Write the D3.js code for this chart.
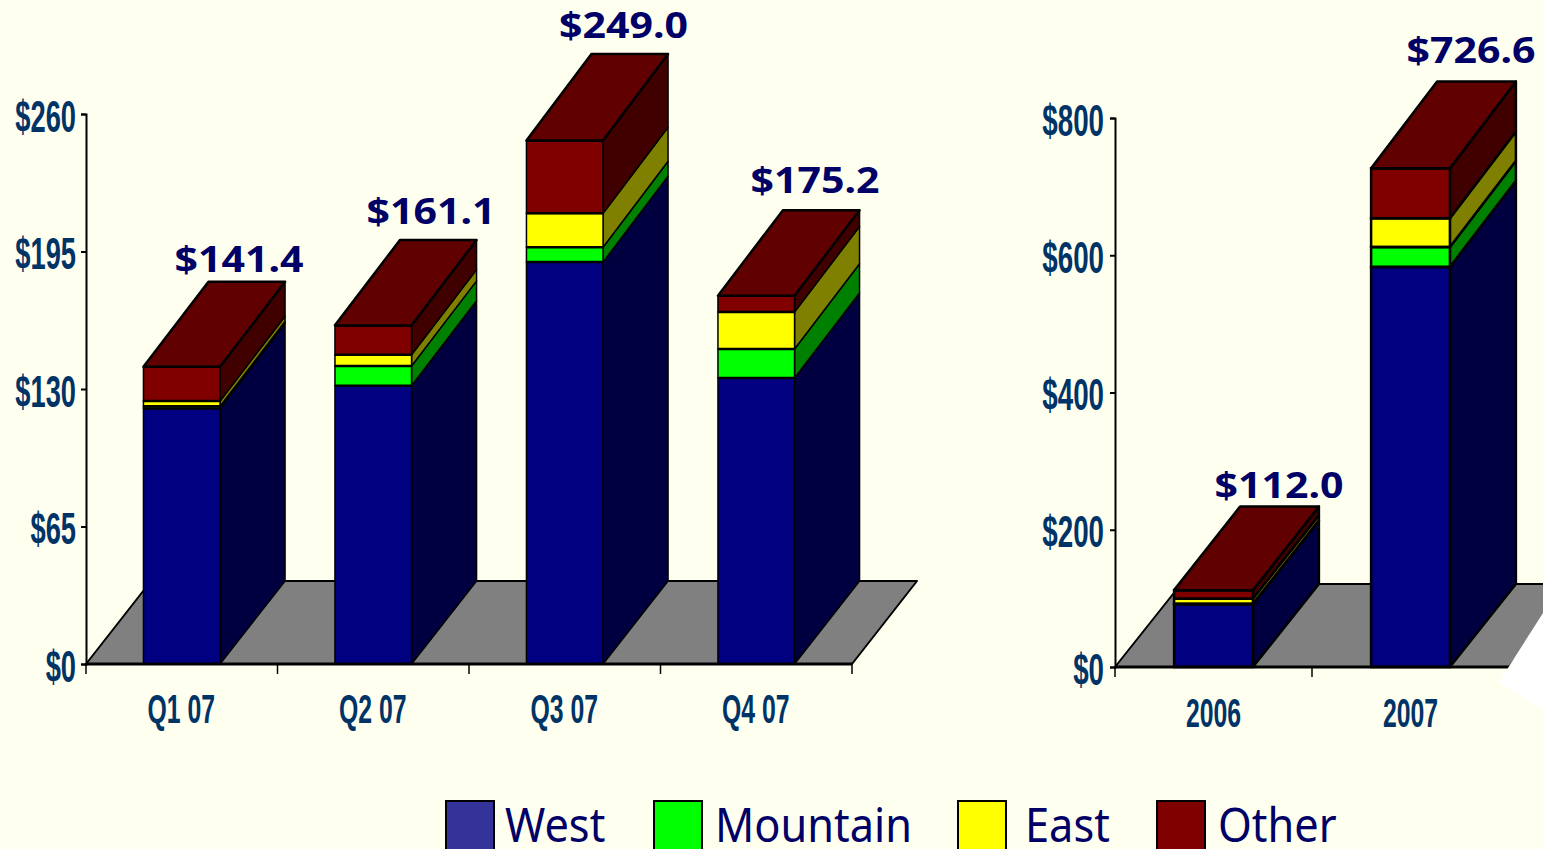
<!DOCTYPE html>
<html><head><meta charset="utf-8"><script src="https://cdn.jsdelivr.net/npm/d3@7"></script>
<style>html,body{margin:0;padding:0;background:#FFFFF0;overflow:hidden}svg{display:block}</style></head>
<body><svg id="c" width="1543" height="849"></svg>
<script>
const seriesNames=["West","Mountain","East","Other"];
const frontColors=["#000080","#00FF00","#FFFF00","#800000"];
const sideColors=["#000040","#008000","#808000","#400000"];
const topColors=["#000060","#00C000","#C0C000","#600000"];
const legendColors=["#333399","#00FF00","#FFFF00","#800000"];

const quarters=["Q1 07","Q2 07","Q3 07","Q4 07"];
const quarterWest=[121.6,132.4,191.2,136.1];
const quarterMountain=[1.0,9.4,7.1,13.8];
const quarterEast=[2.5,5.3,16.1,17.6];
const quarterOther=[16.3,14.0,34.6,7.7];
const quarterTotals=["$141.4","$161.1","$249.0","$175.2"];
const quarterTicks=[0,65,130,195,260];

const years=["2006","2007"];
const yearWest=[91.5,583];
const yearMountain=[0.5,29];
const yearEast=[7.5,42];
const yearOther=[12.5,72.6];
const yearTotals=["$112.0","$726.6"];
const yearTicks=[0,200,400,600,800];

const svg=d3.select("#c");
const INK="#000";
const AXIS_TEXT="#003366";
const LABEL="#000066";

function panel(o){
  const g=svg.append("g");
  const top=o.ticks[o.ticks.length-1];
  const x=d3.scaleBand().domain(o.cats).range([o.x0,o.x1]).paddingInner(o.pad).paddingOuter(o.pad/2);
  const y=d3.scaleLinear().domain([0,top]).range([o.y0,o.yTop]);
  const yBar=d3.scaleLinear().domain([0,top]).range([o.y0,o.barTop]);
  const [dx,dy]=o.depth;
  const yBack=v=>o.y0+dy+(yBar(v)-o.y0)*o.backScale;
  g.append("path").attr("d",d3.line()([[o.x0,o.y0],[o.x1,o.y0],[o.x1+dx,o.y0+dy],[o.x0+dx,o.y0+dy]])+"Z")
    .attr("fill","#808080").attr("stroke",INK).attr("stroke-width",2).attr("stroke-linejoin","round");
  const stacks=o.cats.map((c,i)=>{let acc=0;return o.vals.map((v,k)=>{const s={k,a:acc,b:acc+v[i]};acc+=v[i];return s;});});
  o.cats.forEach((c,i)=>{
    const xl=x(c),xr=xl+x.bandwidth();
    const bar=g.append("g");
    stacks[i].forEach(s=>{
      bar.append("path").attr("d",d3.line()([[xr,yBar(s.a)],[xr+dx,yBack(s.a)],[xr+dx,yBack(s.b)],[xr,yBar(s.b)]])+"Z")
        .attr("fill",sideColors[s.k]).attr("stroke",INK).attr("stroke-width",o.swV).attr("stroke-linejoin","round");
    });
    stacks[i].forEach(s=>{
      bar.append("rect").attr("x",xl).attr("y",yBar(s.b)).attr("width",x.bandwidth()).attr("height",yBar(s.a)-yBar(s.b))
        .attr("fill",frontColors[s.k]).attr("stroke",INK).attr("stroke-width",o.swV);
    });
    stacks[i].forEach(s=>{
      bar.append("line").attr("x1",xl).attr("x2",xr).attr("y1",yBar(s.b)).attr("y2",yBar(s.b))
        .attr("stroke",INK).attr("stroke-width",o.swH);
    });
    const t=stacks[i][stacks[i].length-1];
    bar.append("path").attr("d",d3.line()([[xl,yBar(t.b)],[xl+dx,yBack(t.b)],[xr+dx,yBack(t.b)],[xr,yBar(t.b)]])+"Z")
      .attr("fill",topColors[t.k]).attr("stroke",INK).attr("stroke-width",o.swH).attr("stroke-linejoin","round");
    g.append("text").attr("x",xl+o.labelShift[i]).attr("y",yBack(t.b)-o.labelLift[i])
      .attr("text-anchor","middle").attr("font-family","Noto Sans").attr("font-weight","bold")
      .attr("font-size",36).attr("fill",LABEL)
      .attr("textLength",129).attr("lengthAdjust","spacingAndGlyphs").text(o.totals[i]);
  });
  const ay=d3.axisLeft(y).tickValues(o.ticks).tickFormat(d=>"$"+d).tickSize(5).tickPadding(0);
  const gy=g.append("g").attr("transform",`translate(${o.x0},0)`).call(ay);
  gy.select(".domain").attr("stroke",INK).attr("stroke-width",2);
  gy.selectAll(".tick line").attr("stroke",INK).attr("stroke-width",2);
  gy.selectAll(".tick text").attr("font-family","Liberation Sans").attr("font-weight","bold")
    .attr("font-size",44).attr("fill",AXIS_TEXT).attr("dy","0.39em")
    .attr("transform",`scale(${o.tickScale},1)`).attr("x",o.tickGap/o.tickScale);
  const edges=o.cats.map(c=>x(c)-x.step()*o.pad/2).concat([o.x1]);
  const gx=g.append("g").attr("transform",`translate(0,${o.y0})`).call(d3.axisBottom(x).tickSize(0).tickPadding(0));
  gx.select(".domain").remove();
  gx.selectAll(".tick text").attr("font-family","Liberation Sans").attr("font-weight","bold")
    .attr("font-size",40).attr("fill",AXIS_TEXT).attr("y",0).attr("dy",0)
    .attr("transform",`translate(${o.catDx},${o.catY}) scale(0.62,1)`);
  g.append("line").attr("x1",o.x0).attr("x2",o.x1).attr("y1",o.y0).attr("y2",o.y0).attr("stroke",INK).attr("stroke-width",3);
  g.selectAll("line.edge").data(edges).join("line").attr("class","edge").attr("x1",d=>d).attr("x2",d=>d)
    .attr("y1",o.y0).attr("y2",o.y0+10).attr("stroke",INK).attr("stroke-width",1.5);
}

panel({cats:quarters,vals:[quarterWest,quarterMountain,quarterEast,quarterOther],totals:quarterTotals,ticks:quarterTicks,
  x0:86,x1:852,y0:664,yTop:114,barTop:117.5,backScale:1.007,pad:0.6,depth:[65,-83],swV:1.5,swH:2.5,
  labelShift:[95.5,96,97,97],labelLift:[10,16,16,17],catDx:-0.5,catY:59,tickScale:0.62,tickGap:-10});
panel({cats:years,vals:[yearWest,yearMountain,yearEast,yearOther],totals:yearTotals,ticks:yearTicks,
  x0:1115,x1:1509,y0:667,yTop:118,barTop:118,backScale:1.008,pad:0.6,depth:[66,-83],swV:2.5,swH:2.5,
  labelShift:[105,100],labelLift:[9,18],catDx:0,catY:60,tickScale:0.63,tickGap:-11});

// white flash cutting the lower right of the floor
svg.append("path").attr("d",d3.line()([[1543,613],[1499,682],[1543,710]])+"Z").attr("fill","#FFFFFF");

const legendX=[446,654,958,1157];
const legendTextX=[505,715,1025,1218];
const lg=svg.append("g");
seriesNames.forEach((n,i)=>{
  lg.append("rect").attr("x",legendX[i]).attr("y",801).attr("width",48).attr("height",50)
    .attr("fill",legendColors[i]).attr("stroke",INK).attr("stroke-width",2);
  lg.append("text").attr("transform",`translate(${legendTextX[i]},842) scale(0.985,1.08)`)
    .attr("font-family","Noto Sans").attr("font-size",44).attr("fill",LABEL).text(n);
});
</script></body></html>
